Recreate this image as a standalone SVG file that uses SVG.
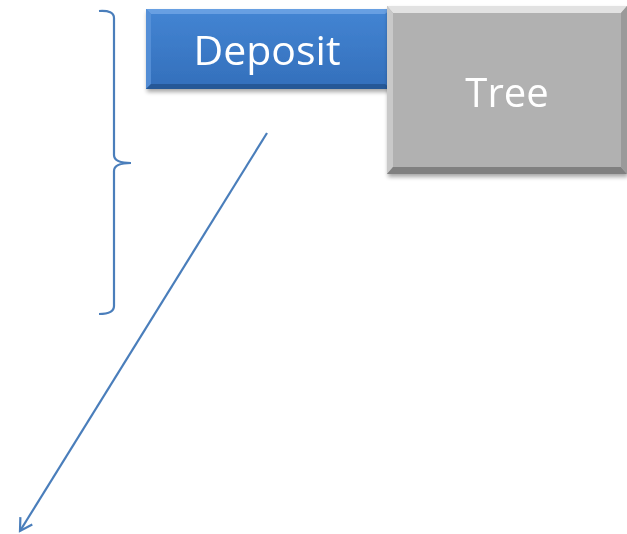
<svg xmlns="http://www.w3.org/2000/svg" width="627" height="534" viewBox="0 0 627 534">
<defs>
<linearGradient id="blueG" x1="0" y1="0" x2="0" y2="1">
<stop offset="0" stop-color="#4485d3"/>
<stop offset="1" stop-color="#336fbb"/>
</linearGradient>
<filter id="sh" x="-10%" y="-10%" width="130%" height="130%">
<feGaussianBlur in="SourceAlpha" stdDeviation="2"/>
<feOffset dx="1" dy="3"/>
<feComponentTransfer><feFuncA type="linear" slope="0.35"/></feComponentTransfer>
<feMerge><feMergeNode/><feMergeNode in="SourceGraphic"/></feMerge>
</filter>
<marker id="arr" markerWidth="18" markerHeight="18" refX="14" refY="9" orient="auto" markerUnits="userSpaceOnUse">
<path d="M2,2 L14,9 L2,16" fill="none" stroke="#4a7ebb" stroke-width="2.2"/>
</marker>
<style>
.lbl{font-family:"Open Sans","Liberation Sans",sans-serif;fill:#fff;text-anchor:middle}
.ln{fill:none;stroke:#4a7ebb;stroke-width:2.2}
</style>
</defs>
<g id="brace"><path class="ln" d="M99,11 Q114,10 114,18 L114,155 Q114,163 131,163 Q114,163 114,171 L114,306 Q114,314 99,314"/></g>
<g id="deposit" filter="url(#sh)">
<rect x="146" y="9" width="245" height="80" fill="url(#blueG)"/>
<path d="M146,9 L391,9 L385,14 L151,14 Z" fill="#72a6e6" opacity="0.8"/>
<path d="M146,9 L151,14 L151,84 L146,89 Z" fill="#5a93d9" opacity="0.8"/>
<path d="M146,89 L151,84 L385,84 L391,89 Z" fill="#23528d" opacity="0.8"/>
<text class="lbl" x="267" y="65" font-size="41">Deposit</text>
</g>
<g id="tree" filter="url(#sh)">
<rect x="387" y="6" width="240" height="168" fill="#b1b1b1"/>
<path d="M387,6 L627,6 L621,13 L393,13 Z" fill="#e2e2e2"/>
<path d="M387,6 L393,13 L393,167 L387,174 Z" fill="#c9c9c9"/>
<path d="M387,174 L393,167 L621,167 L627,174 Z" fill="#808080"/>
<path d="M627,6 L621,13 L621,167 L627,174 Z" fill="#9a9a9a"/>
<text class="lbl" x="507" y="107" font-size="40">Tree</text>
</g>
<g id="connectors"><line class="ln" x1="267" y1="133" x2="20" y2="531" marker-end="url(#arr)"/></g>
</svg>
